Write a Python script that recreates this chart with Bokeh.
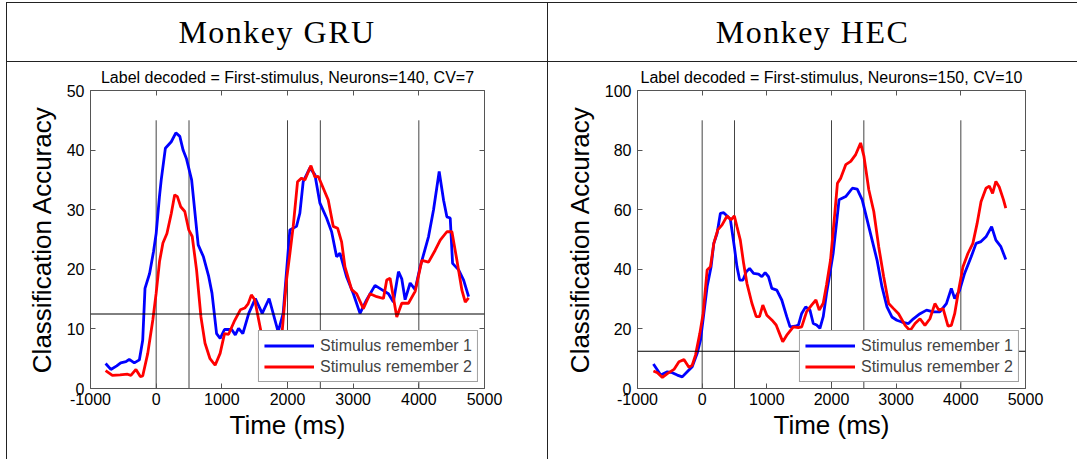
from bokeh.plotting import figure
from bokeh.models import (Range1d, LinearAxis, Span, Legend, LegendItem, Div, Spacer,
                          FixedTicker, CustomJSTickFormatter)
from bokeh.layouts import row, column
from bokeh.embed import file_html
from bokeh.resources import INLINE

# ---------------- data ----------------
panel_headers = ["Monkey GRU", "Monkey HEC"]
panel_titles = ["Label decoded = First-stimulus, Neurons=140, CV=7",
                "Label decoded = First-stimulus, Neurons=150, CV=10"]
series_labels = ["Stimulus remember 1", "Stimulus remember 2"]
event_times = [0, 500, 2000, 2500, 4000]
chance_level = 12.5
x_ticks = [-1000, 0, 1000, 2000, 3000, 4000, 5000]
gru_y_ticks = [0, 10, 20, 30, 40, 50]
hec_y_ticks = [0, 20, 40, 60, 80, 100]

gru_t1 = [-770, -690, -600, -540, -460, -410, -333, -256, -205, -170, -100, -40, 0, 50, 77,
          140, 230, 300, 360, 410, 460, 540, 640, 720, 800, 850, 920, 975, 1040, 1150,
          1205, 1255, 1320, 1410, 1510, 1615, 1720, 1858, 1934, 2036, 2137, 2188, 2239, 2341, 2417,
          2494, 2595, 2672, 2748, 2799, 2901, 3003, 3104, 3206, 3333, 3435, 3537, 3613, 3690, 3740,
          3791, 3868, 3944, 4020, 4148, 4224, 4310, 4377, 4427, 4478, 4514, 4606, 4682, 4758]
gru_acc1 = [4.2, 3.2, 3.8, 4.3, 4.5, 4.9, 4.3, 4.8, 8.1, 16.8, 19.3, 23.0, 26.0, 32.2, 35.0,
            40.3, 41.4, 42.9, 42.3, 40.0, 38.6, 35.0, 24.1, 22.1, 18.8, 16.0, 9.2, 8.4, 9.9, 9.9,
            9.0, 10.1, 9.2, 12.6, 15.1, 12.6, 15.1, 9.5, 12.6, 26.6, 27.2, 29.4, 34.7, 37.0, 35.9,
            31.1, 28.6, 26.3, 22.1, 22.7, 18.7, 15.9, 12.6, 14.9, 17.3, 16.6, 15.9, 14.5, 19.6, 18.4,
            14.9, 17.7, 16.6, 20.4, 25.5, 30.0, 36.4, 31.6, 28.8, 28.6, 21.0, 19.9, 18.2, 15.4]

gru_t2 = [-770, -667, -550, -436, -385, -308, -241, -205, -128, -51, 0, 51, 103, 164, 231,
          282, 323, 374, 436, 497, 549, 615, 682, 744, 820, 898, 974, 1041, 1103, 1195,
          1282, 1349, 1400, 1450, 1501, 1603, 1700, 1800, 1870, 1908, 1985, 2036, 2087, 2153, 2214,
          2265, 2357, 2417, 2468, 2545, 2621, 2697, 2763, 2824, 2875, 2977, 3053, 3155, 3257, 3359,
          3461, 3511, 3562, 3664, 3740, 3842, 3944, 4046, 4148, 4249, 4326, 4427, 4504, 4580, 4656,
          4707, 4758]
gru_acc2 = [3.0, 2.2, 2.3, 2.4, 2.2, 3.2, 2.0, 2.1, 5.9, 11.5, 16.0, 21.3, 24.4, 26.0, 29.4,
            32.5, 32.2, 30.5, 29.7, 26.6, 25.5, 19.9, 12.0, 7.6, 5.0, 3.9, 5.9, 9.2, 9.1, 11.4,
            13.2, 13.5, 14.2, 15.7, 14.9, 9.2, 6.5, 5.5, 6.5, 8.1, 18.2, 22.6, 27.2, 34.7, 35.3,
            35.0, 37.4, 35.5, 35.6, 33.6, 31.6, 27.2, 26.9, 24.6, 20.4, 16.6, 15.9, 13.4, 15.9, 15.4,
            15.1, 18.2, 18.5, 12.0, 14.3, 14.3, 16.3, 21.5, 21.2, 23.2, 24.9, 26.3, 26.3, 21.5, 16.5,
            14.5, 15.2]

hec_t1 = [-754, -692, -641, -538, -462, -385, -308, -231, -154, -77, -26, 26, 77, 138, 180,
          231, 282, 333, 385, 436, 497, 538, 580, 631, 682, 733, 795, 872, 923, 974,
          1026, 1077, 1154, 1231, 1308, 1359, 1436, 1488, 1539, 1600, 1667, 1718, 1770, 1821, 1872,
          1923, 1975, 2026, 2077, 2117, 2220, 2322, 2398, 2475, 2551, 2628, 2704, 2781, 2858, 2934,
          3011, 3087, 3190, 3266, 3369, 3470, 3573, 3675, 3777, 3853, 3905, 3982, 4058, 4160, 4236,
          4312, 4389, 4476, 4542, 4619, 4695]
hec_acc1 = [8.2, 6.2, 4.5, 5.6, 5.3, 4.5, 3.9, 5.6, 7.3, 11.8, 16.2, 25.2, 34.2, 40.9, 48.7,
            52.1, 58.8, 59.0, 57.9, 56.8, 47.6, 40.9, 36.4, 36.4, 39.2, 40.3, 38.6, 38.4, 37.5, 38.9,
            37.5, 33.6, 33.0, 29.7, 24.1, 20.7, 20.9, 21.3, 25.2, 27.4, 26.3, 21.8, 21.3, 20.2, 24.1,
            31.9, 38.6, 45.4, 55.4, 63.3, 64.4, 67.2, 66.9, 63.3, 56.6, 49.8, 43.1, 34.1, 27.4, 24.0,
            22.9, 22.3, 21.8, 23.4, 25.1, 26.3, 25.7, 25.7, 28.5, 33.6, 30.2, 33.0, 38.6, 44.2, 48.7,
            49.3, 50.9, 54.3, 49.8, 47.6, 43.3]

hec_t2 = [-754, -692, -615, -538, -436, -359, -282, -205, -154, -103, -36, 15, 77, 128, 180,
          241, 308, 385, 446, 497, 538, 590, 641, 692, 769, 836, 887, 938, 1000, 1077,
          1144, 1195, 1246, 1308, 1410, 1487, 1539, 1615, 1692, 1759, 1810, 1872, 1923, 1985, 2051,
          2092, 2143, 2220, 2297, 2374, 2450, 2501, 2577, 2654, 2730, 2807, 2884, 2960, 3037, 3139,
          3215, 3292, 3369, 3445, 3522, 3599, 3660, 3726, 3802, 3853, 3905, 3966, 4032, 4109, 4186,
          4252, 4312, 4389, 4441, 4491, 4542, 4594, 4660, 4695]
hec_acc2 = [5.9, 5.3, 3.7, 5.0, 6.4, 9.0, 9.7, 7.1, 7.8, 11.2, 18.5, 25.2, 39.8, 40.9, 48.7,
            53.2, 54.9, 57.9, 56.6, 57.9, 54.3, 49.8, 42.0, 35.3, 28.6, 24.1, 24.1, 28.0, 24.6, 23.0,
            21.3, 18.5, 15.7, 17.9, 20.7, 20.4, 20.7, 25.8, 28.0, 29.7, 26.3, 28.6, 34.7, 43.1, 58.8,
            68.9, 70.6, 75.1, 76.2, 78.5, 82.4, 78.0, 66.7, 59.4, 47.6, 37.5, 28.5, 26.8, 25.1, 21.2,
            19.4, 21.8, 23.4, 21.2, 23.4, 28.5, 26.3, 26.8, 20.9, 21.2, 25.1, 33.0, 40.8, 45.3, 48.7,
            55.4, 62.7, 67.2, 67.9, 65.5, 69.5, 67.6, 63.3, 60.5]

# ---------------- style / layout ----------------
SANS = "Liberation Sans"
SERIF = "Liberation Serif"
PLOT_H = 397           # height of the plot cells (below the header row)
FRAME_TOP, FRAME_BOTTOM = 28, 326
AX_COLOR = "#555555"
RULE = "#222222"


def make_panel(width, fl, fr, ymax, yticks, subtitle, t1, a1, t2, a2):
    xmin, xmax = x_ticks[0], x_ticks[-1]
    p = figure(width=width, height=PLOT_H, output_backend="svg", toolbar_location=None, tools="",
               x_range=Range1d(xmin, xmax), y_range=Range1d(0, ymax),
               x_axis_location=None, y_axis_location=None,
               min_border_left=fl, min_border_right=width - fr,
               min_border_top=FRAME_TOP, min_border_bottom=PLOT_H - FRAME_BOTTOM,
               background_fill_color="white", border_fill_color="white",
               outline_line_color=None, margin=0)
    p.grid.visible = False

    p.title.text = subtitle
    p.title.align = "center"
    p.title.text_font = SANS
    p.title.text_font_size = "16px"
    p.title.text_font_style = "normal"
    p.title.text_color = "black"
    p.title.standoff = 9

    common = dict(axis_line_color=AX_COLOR, major_tick_line_color=AX_COLOR,
                  major_tick_in=5, major_tick_out=0, minor_tick_in=0, minor_tick_out=0,
                  minor_tick_line_color=None,
                  major_label_text_font=SANS, major_label_text_font_size="16px",
                  major_label_text_color="black",
                  axis_label_text_font=SANS, axis_label_text_font_size="26px",
                  axis_label_text_font_style="normal", axis_label_text_color="black")
    blank = CustomJSTickFormatter(code="return ''")
    x_over = {t: str(t) for t in x_ticks}

    xb = LinearAxis(ticker=FixedTicker(ticks=x_ticks), axis_label="Time (ms)",
                    major_label_overrides=x_over,
                    major_label_standoff=4, axis_label_standoff=2, **common)
    yl = LinearAxis(ticker=FixedTicker(ticks=yticks), axis_label="Classification Accuracy",
                    major_label_standoff=6, axis_label_standoff=7, **common)
    xt = LinearAxis(ticker=FixedTicker(ticks=x_ticks), formatter=blank,
                    major_label_standoff=0, **common)
    yr = LinearAxis(ticker=FixedTicker(ticks=yticks), formatter=blank,
                    major_label_standoff=0, **common)
    p.add_layout(xb, "below")
    p.add_layout(yl, "left")
    p.add_layout(xt, "above")
    p.add_layout(yr, "right")

    # chance level and task events
    p.add_layout(Span(location=chance_level, dimension="width", line_color="black", line_width=1))
    p.segment(x0=event_times, y0=[0] * len(event_times), x1=event_times,
              y1=[0.9 * ymax] * len(event_times), line_color="#444444", line_width=1)

    r1 = p.line(t1, a1, line_color="#0000ff", line_width=2.8)
    r2 = p.line(t2, a2, line_color="#ff0000", line_width=2.8)

    legend = Legend(items=[LegendItem(label=series_labels[0], renderers=[r1]),
                           LegendItem(label=series_labels[1], renderers=[r2])],
                    location="bottom_right", margin=6, padding=5, spacing=2,
                    glyph_width=50, glyph_height=19, label_height=19, label_standoff=6,
                    label_text_font=SANS, label_text_font_size="16px",
                    border_line_color="#444444", border_line_width=1,
                    background_fill_color="white", background_fill_alpha=1)
    p.add_layout(legend)
    return p


def block(w, h, color=None):
    if color is None:
        return Spacer(width=w, height=h, margin=0)
    return Div(text="", width=w, height=h, margin=0,
               styles={"background-color": color, "overflow": "hidden", "line-height": "0"})


def header_cell(text, w, h):
    html = ('<div style="width:%dpx;height:%dpx;display:flex;align-items:center;'
            'justify-content:center;font-family:\'%s\';font-size:32px;letter-spacing:1.5px;'
            'line-height:1;color:black;background:white;">%s</div>') % (w, h, SERIF, text)
    return Div(text=html, width=w, height=h, margin=0, styles={"overflow": "hidden"})


W1, W2 = 540, 529
p1 = make_panel(W1, 83, 477, 50, gru_y_ticks, panel_titles[0],
                gru_t1, gru_acc1, gru_t2, gru_acc2)
p2 = make_panel(W2, 89, 477, 100, hec_y_ticks, panel_titles[1],
                hec_t1, hec_acc1, hec_t2, hec_acc2)

HEAD_H = 58
layout = column(
    block(1077, 2),
    row(block(6, 1), block(1071, 1, RULE), spacing=0, margin=0),
    row(block(6, HEAD_H), block(1, HEAD_H, RULE), header_cell(panel_headers[0], W1, HEAD_H),
        block(1, HEAD_H, RULE), header_cell(panel_headers[1], W2, HEAD_H), spacing=0, margin=0),
    row(block(6, 1), block(1071, 1, RULE), spacing=0, margin=0),
    row(block(6, PLOT_H), block(1, PLOT_H, RULE), p1, block(1, PLOT_H, RULE), p2,
        spacing=0, margin=0),
    spacing=0, margin=0,
)
open("out.html", "w").write(file_html(layout, INLINE))
